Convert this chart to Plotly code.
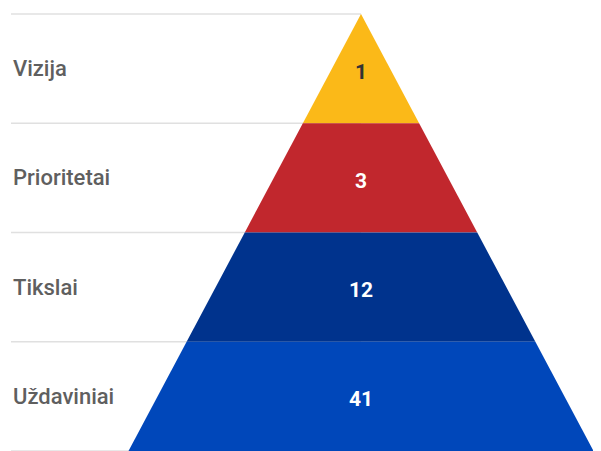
import plotly.graph_objects as go

# Data (top to bottom)
levels = ["Vizija", "Prioritetai", "Tikslai", "Uždaviniai"]
values = [1, 3, 12, 41]
colors = ["#FBB918", "#C1272D", "#00338D", "#0047BA"]
text_colors = ["#333333", "#FFFFFF", "#FFFFFF", "#FFFFFF"]

n = len(levels)
fig = go.Figure()

# grid lines at level boundaries (from label column to pyramid center)
x_left = -1.5054
for b in range(n + 1):
    fig.add_trace(go.Scatter(x=[x_left, 0], y=[b, b], mode="lines",
                             line=dict(color="#E0E0E0", width=1.3),
                             hoverinfo="skip", showlegend=False))

# pyramid segments: level i from top; top of segment at y = n - i, bottom at n - i - 1
for i, (lab, val, col) in enumerate(zip(levels, values, colors)):
    y_top = n - i
    y_bot = n - i - 1
    hw_top = i / n
    hw_bot = (i + 1) / n
    fig.add_trace(go.Scatter(
        x=[-hw_top, hw_top, hw_bot, -hw_bot, -hw_top],
        y=[y_top, y_top, y_bot, y_bot, y_top],
        mode="lines", fill="toself", fillcolor=col,
        line=dict(width=0, color=col), hoverinfo="skip", showlegend=False))
    fig.add_annotation(x=0, y=(y_top + y_bot) / 2, text=f"<b>{val}</b>", showarrow=False,
                       xanchor="center", yanchor="middle", yshift=-3,
                       font=dict(family="Roboto", size=21, color=text_colors[i]))
    fig.add_annotation(x=x_left, y=(y_top + y_bot) / 2, text=lab, showarrow=False,
                       xanchor="left", yanchor="middle",
                       font=dict(family="Roboto", size=22, color="#5F5F5F", weight=500))

fig.update_layout(
    width=601, height=451,
    margin=dict(l=0, r=0, t=0, b=0),
    paper_bgcolor="white", plot_bgcolor="white",
    xaxis=dict(range=[-1.5183, 1.0667], visible=False, fixedrange=True),
    yaxis=dict(range=[-0.0732, 4.0549], visible=False, fixedrange=True),
)

fig.write_html("out.html")
